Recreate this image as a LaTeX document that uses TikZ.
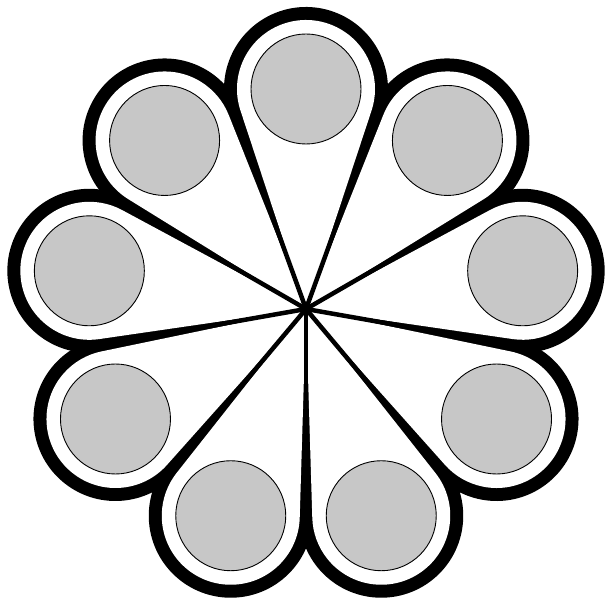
\documentclass[tikz,border=0pt]{standalone}
\usetikzlibrary{calc}
\begin{document}
\begin{tikzpicture}[x=1pt,y=1pt,
  graydisc/.style={circle, draw=black, line width=0.9pt, fill=black!22, minimum size=110pt, inner sep=0pt},
  hubline/.style={line width=4.5pt, black}]
\useasboundingbox (0,0) rectangle (605,600);
\fill[white] (0,0) rectangle (605,600);
\coordinate (C) at (306,291);
\begin{scope}[shift={(306,291)}]
\def\D{220}
\def\Ro{82}
\def\Ri{69}
\pgfmathsetmacro\ao{asin(\Ro/\D)}
\pgfmathsetmacro\ai{asin(\Ri/\D)}
% outer black teardrops
\foreach \k in {0,...,8}{
  \pgfmathsetmacro\t{90+40*\k}
  \coordinate (p\k) at (\t:\D);
  \fill[black] (0,0) -- ([shift={(\t+90+\ao:\Ro)}]p\k)
     arc[start angle=\t+90+\ao, end angle=\t-90-\ao, radius=\Ro pt] -- cycle;
}
% white interiors
\foreach \k in {0,...,8}{
  \pgfmathsetmacro\t{90+40*\k}
  \fill[white] (0,0) -- ([shift={(\t+90+\ai:\Ri)}]p\k)
     arc[start angle=\t+90+\ai, end angle=\t-90-\ai, radius=\Ri pt] -- cycle;
}
% lines near the hub
\foreach \k in {0,...,8}{
  \pgfmathsetmacro\t{110+40*\k}
  \coordinate (h\k) at (\t:110);
  \draw[hubline] (0,0) -- (h\k);
}
% gray discs
\foreach \k in {0,...,8}{
  \node[graydisc] (d\k) at (p\k) {};
}
\end{scope}
\end{tikzpicture}
\end{document}
